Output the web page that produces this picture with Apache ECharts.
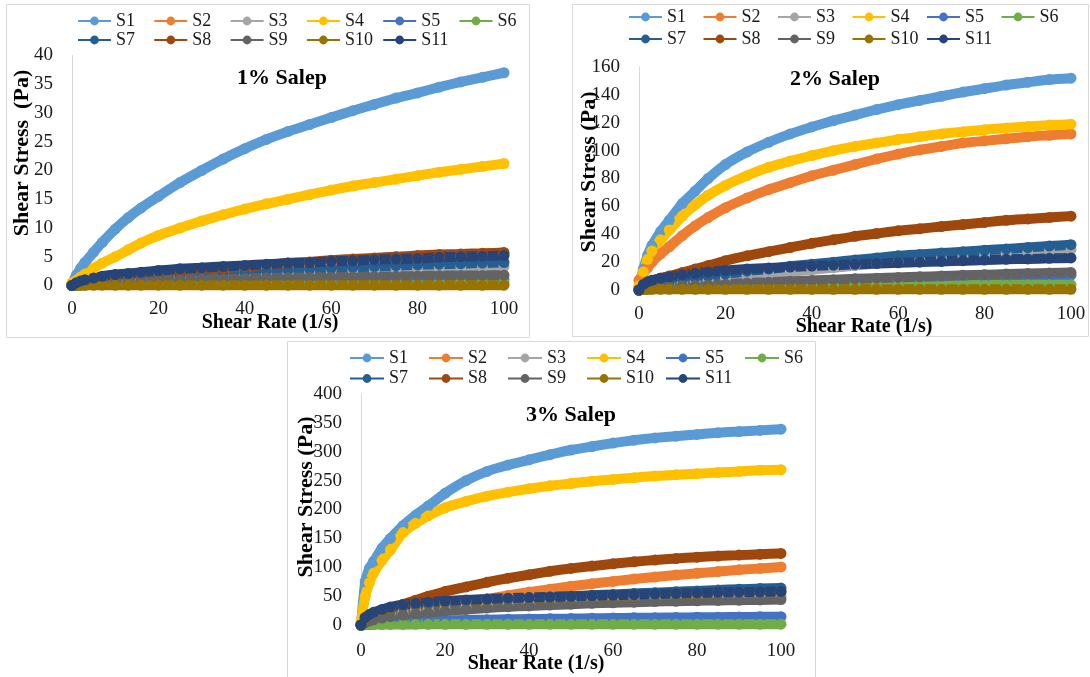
<!DOCTYPE html>
<html>
<head>
<meta charset="utf-8">
<script src="https://cdn.jsdelivr.net/npm/echarts@6/dist/echarts.min.js"></script>
<style>
html, body { margin: 0; padding: 0; background: #fff; }
#chart { width: 1090px; height: 677px; }
</style>
</head>
<body>
<div id="chart"></div>
<script>
// shear rate (1/s) where values were read
var shearRate = [0, 1, 2, 3, 5, 7, 10, 13, 16, 20, 25, 30, 35, 40, 45, 50, 55, 60, 65, 70, 75, 80, 85, 90, 95, 100];
var sampleNames = ['S1', 'S2', 'S3', 'S4', 'S5', 'S6', 'S7', 'S8', 'S9', 'S10', 'S11'];
var sampleColors = ['#5B9BD5', '#ED7D31', '#A5A5A5', '#FFC000', '#4472C4', '#70AD47',
    '#255E91', '#9E480E', '#636363', '#997300', '#264478'];
var panelTitles = ['1% Salep', '2% Salep', '3% Salep'];
var stressMax = [40, 160, 400];
var stressStep = [5, 20, 50];

// 1% salep, shear stress (Pa)
var p1s1 = [0.3, 1.8, 3.0, 4.0, 5.8, 7.5, 9.8, 11.8, 13.5, 15.5, 17.9, 20.0, 22.0, 23.8, 25.4, 26.8, 28.0, 29.2, 30.4, 31.5, 32.6, 33.5, 34.5, 35.4, 36.2, 37.0];
var p1s2 = [0, 0.1, 0.2, 0.3, 0.4, 0.5, 0.7, 0.9, 1.1, 1.3, 1.6, 1.9, 2.2, 2.5, 2.8, 3.1, 3.4, 3.7, 4.0, 4.2, 4.5, 4.7, 4.9, 5.1, 5.3, 5.5];
var p1s3 = [0, 0.1, 0.2, 0.3, 0.45, 0.6, 0.8, 0.95, 1.1, 1.3, 1.5, 1.7, 1.85, 2.0, 2.15, 2.3, 2.45, 2.6, 2.7, 2.8, 2.9, 3.0, 3.1, 3.2, 3.25, 3.3];
var p1s4 = [0.5, 0.9, 1.5, 2.0, 3.0, 3.9, 5.0, 6.2, 7.4, 8.7, 10.0, 11.2, 12.3, 13.3, 14.2, 15.0, 15.8, 16.6, 17.3, 17.9, 18.5, 19.1, 19.7, 20.2, 20.7, 21.2];
var p1s5 = [0, 0.05, 0.1, 0.15, 0.2, 0.3, 0.35, 0.4, 0.45, 0.5, 0.55, 0.6, 0.65, 0.7, 0.72, 0.75, 0.78, 0.8, 0.85, 0.88, 0.9, 0.92, 0.95, 0.97, 0.98, 1.0];
var p1s6 = [0, 0.05, 0.1, 0.1, 0.15, 0.2, 0.2, 0.25, 0.25, 0.3, 0.3, 0.3, 0.35, 0.35, 0.35, 0.4, 0.4, 0.4, 0.4, 0.4, 0.45, 0.45, 0.45, 0.45, 0.45, 0.45];
var p1s7 = [0, 0.2, 0.35, 0.5, 0.7, 0.85, 1.0, 1.2, 1.35, 1.5, 1.7, 1.9, 2.1, 2.3, 2.5, 2.7, 2.85, 3.0, 3.15, 3.3, 3.45, 3.6, 3.7, 3.8, 3.9, 4.0];
var p1s8 = [0, 0.15, 0.3, 0.45, 0.7, 0.9, 1.2, 1.45, 1.7, 2.0, 2.4, 2.7, 3.0, 3.3, 3.6, 3.9, 4.1, 4.4, 4.6, 4.8, 5.0, 5.2, 5.4, 5.5, 5.6, 5.75];
var p1s9 = [0, 0.1, 0.2, 0.3, 0.4, 0.5, 0.6, 0.7, 0.8, 0.9, 1.0, 1.1, 1.15, 1.2, 1.3, 1.35, 1.4, 1.45, 1.5, 1.55, 1.6, 1.65, 1.7, 1.75, 1.75, 1.8];
var p1s10 = [0, 0.02, 0.03, 0.04, 0.05, 0.05, 0.05, 0.05, 0.05, 0.05, 0.05, 0.05, 0.05, 0.05, 0.05, 0.05, 0.05, 0.05, 0.05, 0.05, 0.05, 0.05, 0.05, 0.05, 0.05, 0.05];
var p1s11 = [0, 0.5, 0.8, 1.0, 1.3, 1.6, 1.9, 2.1, 2.3, 2.6, 2.9, 3.1, 3.3, 3.5, 3.7, 3.9, 4.0, 4.2, 4.3, 4.5, 4.6, 4.7, 4.9, 5.0, 5.1, 5.2];

// 2% salep
var p2s1 = [2, 15, 25, 32, 42, 50, 62, 71, 80, 90, 99, 106, 112, 117, 121.5, 125.5, 129.5, 133, 136, 139, 142, 144.5, 147, 149, 151, 152];
var p2s2 = [7, 12, 16, 20, 26, 31, 39, 46, 52, 59, 66, 72, 77, 82, 86, 90, 94, 97.5, 100.5, 103, 105.5, 107, 108.5, 110, 111, 112];
var p2s3 = [0, 0.5, 1, 1.5, 2.5, 3.5, 5, 6, 7, 8.5, 10, 11.5, 13, 14.5, 16, 17.5, 19, 20, 21.5, 23, 24, 25, 26, 27, 28, 29];
var p2s4 = [3, 13, 22, 28, 36, 43, 53, 61, 68, 75, 82, 88, 92.5, 96.5, 100, 103, 105.5, 108, 110, 112, 113.5, 115, 116.3, 117.3, 118.3, 119];
var p2s5 = [0, 0.4, 0.8, 1.1, 1.5, 1.9, 2.4, 2.7, 3.1, 3.6, 4.2, 4.8, 5.3, 5.8, 6.3, 6.8, 7.2, 7.7, 8.1, 8.5, 8.9, 9.3, 9.7, 10, 10.4, 10.6];
var p2s6 = [0, 1, 1.5, 2, 2.3, 2.5, 2.7, 2.8, 2.9, 3, 3.1, 3.2, 3.2, 3.3, 3.3, 3.4, 3.4, 3.5, 3.5, 3.5, 3.6, 3.6, 3.6, 3.7, 3.7, 3.7];
var p2s7 = [0, 2, 3.5, 4.5, 5.5, 6.5, 8, 9, 10, 11.5, 13.5, 15, 17, 18.5, 20, 21.5, 23, 24.5, 25.5, 26.5, 27.5, 28.5, 29.5, 30.5, 31.5, 32.5];
var p2s8 = [0, 3, 5, 6.5, 8.5, 10, 12.5, 15, 17.5, 21, 24.5, 27.5, 30.5, 33.5, 36, 38.5, 40.5, 42.5, 44, 45.5, 47, 48.5, 50, 51, 52, 53];
var p2s9 = [0, 0.5, 1, 1.3, 1.8, 2.2, 2.8, 3.2, 3.6, 4.2, 5, 5.6, 6.2, 6.8, 7.4, 8, 8.5, 9, 9.5, 10, 10.5, 11, 11.4, 11.8, 12.2, 12.5];
var p2s10 = [0, 0.3, 0.4, 0.5, 0.5, 0.5, 0.5, 0.5, 0.5, 0.5, 0.5, 0.5, 0.5, 0.5, 0.5, 0.5, 0.5, 0.5, 0.5, 0.5, 0.5, 0.5, 0.5, 0.5, 0.5, 0.5];
var p2s11 = [0, 4, 6, 7, 8.5, 9.5, 11, 12, 13, 14, 15, 15.8, 16.5, 17.2, 17.8, 18.4, 19, 19.5, 20, 20.5, 21, 21.5, 22, 22.3, 22.7, 23];

// 3% salep
var p3s1 = [0, 75, 98, 110, 133, 150, 172, 190, 206, 228, 250, 266, 277, 286, 295, 303, 309, 315, 320, 324, 327, 330, 333, 335, 337, 339];
var p3s2 = [0, 5, 8, 11, 16, 20, 24, 28, 31, 35, 40, 45, 51, 57, 62, 67, 71.5, 75.5, 79.5, 83, 86.5, 89.5, 92.5, 95.5, 98, 100.5];
var p3s3 = [0, 5, 8, 10, 14, 17, 20, 23, 25, 28, 31, 34, 36, 38, 40, 41.5, 43, 44.5, 45.5, 46.5, 47.5, 48, 48.5, 49, 49.5, 50];
var p3s4 = [6, 49, 73, 90, 112, 130, 160, 176, 189, 203, 214, 223, 230, 236, 241, 245, 249, 252, 255, 258, 260, 262, 264, 266, 268, 269];
var p3s5 = [0, 2, 3, 4, 5, 5.7, 6.5, 7, 7.5, 8, 8.7, 9.3, 9.8, 10.3, 10.8, 11.2, 11.6, 12, 12.4, 12.7, 13, 13.3, 13.6, 13.9, 14.2, 14.5];
var p3s6 = [0, 0.3, 0.5, 0.6, 0.8, 0.9, 1, 1.1, 1.1, 1.2, 1.2, 1.3, 1.3, 1.3, 1.4, 1.4, 1.4, 1.4, 1.5, 1.5, 1.5, 1.5, 1.5, 1.5, 1.5, 1.5];
var p3s7 = [0, 12, 17, 20, 25, 28, 32, 34.5, 36.5, 39, 41.5, 43.5, 45.5, 47, 48.5, 50, 51.5, 53, 54.5, 56, 57.5, 59, 60.5, 62, 63, 64];
var p3s8 = [0, 6, 11, 15, 22, 28, 36, 43, 50, 58, 66, 74, 81, 87, 93, 98, 102, 106, 109.5, 112.5, 115, 117.5, 119.5, 121, 122.5, 124];
var p3s9 = [0, 4, 7, 9, 12, 14.5, 17, 19.5, 21.5, 24, 27, 29.5, 31.5, 33, 34.5, 36, 37.5, 38.5, 39.5, 40.5, 41.3, 42, 42.5, 43, 43.5, 44];
var p3s10 = [0, 12, 17, 21, 26, 30, 34, 36.5, 38.5, 40.5, 42.5, 44, 45.5, 46.5, 47.5, 48.5, 49.5, 50.5, 51.5, 52.5, 53.5, 54.5, 55.5, 56, 56.5, 57];
var p3s11 = [0, 13, 18, 22, 27, 31, 35, 37.5, 39.5, 41.5, 43.5, 45, 46.5, 47.5, 48.5, 49.5, 50.5, 51.5, 52.5, 53.5, 54.5, 55.5, 56.5, 57, 57.5, 58];

var panelData = [
    [p1s1, p1s2, p1s3, p1s4, p1s5, p1s6, p1s7, p1s8, p1s9, p1s10, p1s11],
    [p2s1, p2s2, p2s3, p2s4, p2s5, p2s6, p2s7, p2s8, p2s9, p2s10, p2s11],
    [p3s1, p3s2, p3s3, p3s4, p3s5, p3s6, p3s7, p3s8, p3s9, p3s10, p3s11]
];

var serif = '"Liberation Serif", "Times New Roman", serif';
var frameColor = '#d9d9d9';

// plot areas, legend rows, text spots per panel
var grids = [
    { left: 72, top: 55.5, width: 432, height: 230 },
    { left: 639, top: 67, width: 432, height: 223 },
    { left: 361, top: 394, width: 420, height: 231 }
];
// legend: first column x, column step, row tops, icon width
var legendPos = [
    { left: 77, step: 76.3, top1: 12, top2: 31, icon: 33 },
    { left: 628, step: 74.5, top1: 8, top2: 30, icon: 33 },
    { left: 349, step: 79, top1: 349, top2: 369.5, icon: 34 }
];
var titlePos = [[282, 78], [835, 79], [571, 415]];
var xNamePos = [[270, 323], [864, 327], [536, 664]];
var yNamePos = [[22, 153], [589, 172], [306, 497]];
var yNames = ['Shear Stress  (Pa)', 'Shear Stress (Pa)', 'Shear Stress (Pa)'];
var xLabelMargin = [14, 15, 17];

var option = {
    animation: false,
    backgroundColor: '#fff',
    grid: [],
    xAxis: [],
    yAxis: [],
    legend: [],
    series: [],
    graphic: []
};

// panel frames
option.graphic.push(
    { type: 'rect', shape: { x: 6.5, y: 4.5, width: 523, height: 333 }, style: { fill: null, stroke: frameColor, lineWidth: 1 }, silent: true },
    { type: 'rect', shape: { x: 572.5, y: 4.5, width: 516, height: 332 }, style: { fill: null, stroke: frameColor, lineWidth: 1 }, silent: true },
    { type: 'rect', shape: { x: 287.5, y: 341.5, width: 528, height: 340 }, style: { fill: null, stroke: frameColor, lineWidth: 1 }, silent: true }
);

for (var p = 0; p < 3; p++) {
    option.grid.push(grids[p]);
    option.xAxis.push({
        type: 'value', gridIndex: p, min: 0, max: 100, interval: 20,
        axisLine: { show: true, lineStyle: { color: frameColor } },
        axisTick: { show: false },
        splitLine: { show: false },
        axisLabel: { fontFamily: serif, fontSize: 19, color: '#1a1a1a', margin: xLabelMargin[p] }
    });
    option.yAxis.push({
        type: 'value', gridIndex: p, min: 0, max: stressMax[p], interval: stressStep[p],
        axisLine: { show: true, lineStyle: { color: frameColor } },
        axisTick: { show: false },
        splitLine: { show: false },
        axisLabel: { fontFamily: serif, fontSize: 19, color: '#1a1a1a', margin: 19 }
    });

    // one legend per entry so the columns line up like Excel's
    var lp = legendPos[p];
    sampleNames.forEach(function(name, i) {
        var col = i < 6 ? i : i - 6;
        option.legend.push({
            left: lp.left + col * lp.step,
            top: i < 6 ? lp.top1 : lp.top2,
            padding: 0,
            itemWidth: lp.icon, itemHeight: 11,
            selectedMode: false,
            data: [name],
            lineStyle: { width: 2 },
            textStyle: { fontFamily: serif, fontSize: 18, color: '#1a1a1a' }
        });
    });

    for (var s = 0; s < sampleNames.length; s++) {
        var vals = panelData[p][s];
        option.series.push({
            type: 'line',
            name: sampleNames[s],
            xAxisIndex: p, yAxisIndex: p,
            data: shearRate.map(function(x, k) { return [x, vals[k]]; }),
            symbol: 'circle', symbolSize: 11, showAllSymbol: true,
            smooth: 0.2,
            color: sampleColors[s],
            lineStyle: { width: 10, color: sampleColors[s] },
            itemStyle: { color: sampleColors[s] },
            emphasis: { disabled: true },
            clip: false
        });
    }

    option.graphic.push({
        type: 'text', x: titlePos[p][0], y: titlePos[p][1], silent: true,
        style: { text: panelTitles[p], fontFamily: serif, fontSize: 22, fontWeight: 'bold', fill: '#000', align: 'center', verticalAlign: 'middle' }
    });
    option.graphic.push({
        type: 'text', x: xNamePos[p][0], y: xNamePos[p][1], silent: true,
        style: { text: 'Shear Rate (1/s)', fontFamily: serif, fontSize: 20, fontWeight: 'bold', fill: '#000', align: 'center', verticalAlign: 'middle' }
    });
    option.graphic.push({
        type: 'text', x: yNamePos[p][0], y: yNamePos[p][1], rotation: Math.PI / 2, silent: true,
        style: { text: yNames[p], fontFamily: serif, fontSize: 22, fontWeight: 'bold', fill: '#000', align: 'center', verticalAlign: 'middle' }
    });
}

var chart = echarts.init(document.getElementById('chart'));
chart.setOption(option);
</script>
</body>
</html>
